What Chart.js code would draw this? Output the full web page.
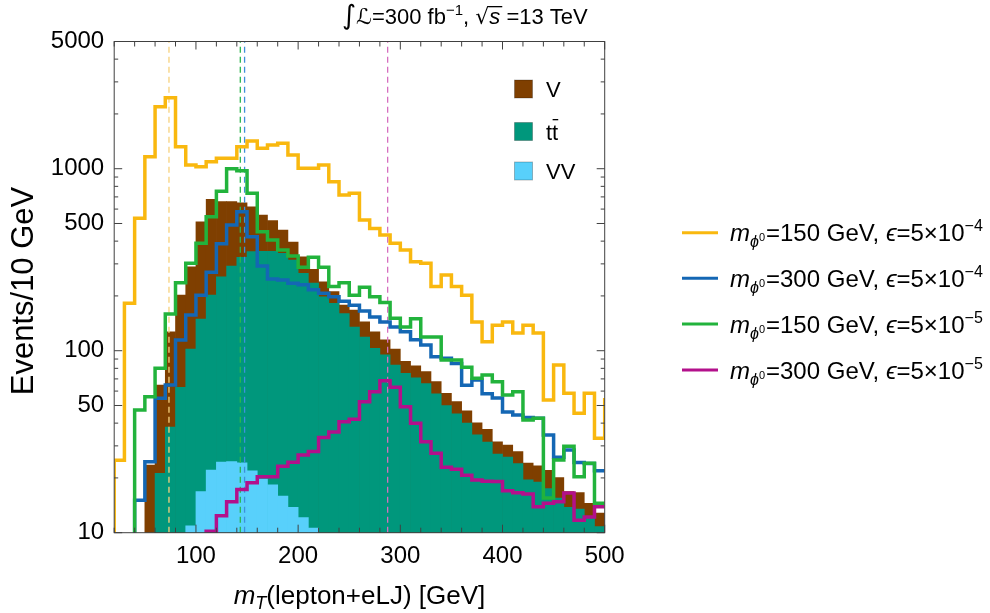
<!DOCTYPE html>
<html>
<head>
<meta charset="utf-8">
<script src="https://cdn.jsdelivr.net/npm/chart.js@4.4.1/dist/chart.umd.min.js"></script>
<style>
  html, body { margin: 0; padding: 0; background: #fff; }
  #wrap { width: 990px; height: 613px; }
</style>
</head>
<body>
<div id="wrap"><canvas id="c" width="990" height="613"></canvas></div>
<script>
// 10 GeV bins, left edges (last edge = 500 closes the range)
const binEdges = [20, 30, 40, 50, 60, 70, 80, 90, 100, 110, 120, 130, 140, 150, 160, 170, 180, 190, 200,
  210, 220, 230, 240, 250, 260, 270, 280, 290, 300, 310, 320, 330, 340, 350, 360, 370, 380, 390, 400,
  410, 420, 430, 440, 450, 460, 470, 480, 490, 500];

// stacked backgrounds, read as the top of each stacked layer (null = below 10)
const stackV = [null, null, null, 23.5, 64.8, 127, 202, 289, 511, 679, 659, 659, 650, 618, 557, 518, 460, 395,
  328, 280, 239, 211, 178, 167, 144, 127, 114.6, 102, 87.5, 82.5, 76.7, 67.6, 58.3, 52.5, 46.8, 40.2, 37,
  31.6, 30.3, 27.9, 24.1, 23.3, 22, 20.1, 16.8, 16.6, 14.5, 12.8];
const stackTT = [null, null, null, null, 21.2, 38, 63, 102, 149, 202, 255, 292, 326, 350, 352, 352, 343, 315,
  266, 235, 198, 182, 160, 135, 119, 103, 95, 83.5, 75, 71, 66, 58, 50, 45, 40, 34.5, 31.5,
  27, 26, 24, 19.5, 19, 17.5, 15.5, 13.8, 13.5, 12, 10.8];
const stackVV = [null, null, null, null, null, null, null, 10.9, 16.8, 22.1, 24.4, 24.6, 24.2, 21.9, 19.7, 18.3,
  15.9, 13.8, 12.1, 10.6, null, null, null, null, null, null, null, null, null, null, null, null, null, null,
  null, null, null, null, null, null, null, null, null, null, null, null, null, null];

// signal histograms, one value per bin edge (last entry = bin just past 500), 1 = empty
const sig150e4 = [25, 182, 534, 1164, 2191, 2455, 1321, 1048, 1026, 1092, 1141, 1141, 1321, 1419, 1294, 1349,
  1379, 1189, 1005, 1005, 1048, 848, 717, 732, 523, 470, 432, 389, 357, 308, 302, 225, 261, 225, 202, 144,
  112, 138, 144, 125, 138, 125, 53.6, 83.5, 58.3, 45.3, 58.3, 33, 55];
const sig300e4 = [1, 1, 15.1, 24.5, 54.8, 64.8, 114.6, 157, 202, 270, 387, 491, 580, 423, 292, 248, 245, 235,
  230, 216, 207, 198, 187, 178, 165, 153, 144, 135, 127, 115, 107.5, 92.7, 90.8, 85, 64.5, 69, 58, 55, 46,
  44.3, 43, 42.5, 34.4, 26, 28.5, 24.3, 24, 21.9, 21.9];
const sig150e5 = [1, 1, 47.2, 55.9, 80, 159, 236, 302, 389, 545, 752, 1000, 975, 732, 451, 406, 357, 331, 287,
  326, 287, 225, 236, 202, 223, 198, 184, 151, 135, 150, 119, 119, 89, 89, 81, 70.5, 73.5, 67.6, 57.1, 59.5,
  41.6, 42.5, 15.5, 25.1, 29.9, 20.3, 24.1, 14.5, 14.5];
const sig300e5 = [1, 1, 1, 1, 1, 1, 1, 1, 1, 10.2, 12.4, 14.8, 17.3, 18.8, 20.3, 20.3, 23.2, 24.4, 26.7, 27.9,
  33.3, 35.8, 40.7, 42, 52.5, 59.5, 68.4, 63, 49.2, 40, 31.6, 27.3, 22.9, 22.3, 20.7, 19.5, 19.2, 19.1, 17,
  16.6, 16.3, 13.9, 14.5, 14.8, 16.5, 11.7, 12.2, 13.9, 13.9];

// dashed reference lines (GeV)
const markerPos = [73.6, 147.6, 143.4, 287.6];

const xTickValues = [20, 40, 60, 80, 100, 120, 140, 160, 180, 200, 220, 240, 260, 280, 300, 320, 340, 360,
  380, 400, 420, 440, 460, 480, 500];
const xLabelled = [100, 200, 300, 400, 500];
const yTickValues = [10, 20, 30, 40, 50, 60, 70, 80, 90, 100, 200, 300, 400, 500, 600, 700, 800, 900,
  1000, 2000, 3000, 4000, 5000];
const yLabelled = [10, 50, 100, 500, 1000, 5000];

const bgNames = ['V', 'tt', 'VV'];
const bgColors = ['#7f3f00', '#00977c', '#58d0fb'];
const sigNames = ['150', '300', '150', '300'];
const sigEps = ['−4', '−4', '−5', '−5'];
const sigColors = ['#f9b80f', '#1467b4', '#22b33c', '#b3108b'];
const dashColors = ['#f7d27c', '#3f8fdb', '#2bb84b', '#d66fc0'];

const FONT = '"Liberation Sans", Arial, Helvetica, sans-serif';

function barData(vals) {
  return vals.map((v, i) => ({ x: binEdges[i] + 5, y: v }));
}
function stepData(vals) {
  const pts = [{ x: binEdges[0], y: 1 }];
  vals.forEach((v, i) => pts.push({ x: binEdges[i], y: v }));
  return pts;
}

function drawRich(ctx, x, y, parts, align) {
  let total = 0;
  for (const p of parts) {
    ctx.font = (p.it ? 'italic ' : '') + p.size + 'px ' + (p.fam || FONT);
    p.w = ctx.measureText(p.t).width;
    total += p.w + (p.gap || 0);
  }
  let cx = align === 'center' ? x - total / 2 : x;
  for (const p of parts) {
    ctx.font = (p.it ? 'italic ' : '') + p.size + 'px ' + (p.fam || FONT);
    ctx.fillText(p.t, cx, y + (p.dy || 0));
    if (p.bar) {
      ctx.fillRect(cx + p.bar[0], y + (p.dy || 0) - p.bar[1], p.w - p.bar[0] - p.bar[2], 1.3);
    }
    cx += p.w + (p.gap || 0);
  }
}

const decorations = {
  id: 'decorations',
  afterDatasetsDraw(chart) {
    const ctx = chart.ctx;
    const a = chart.chartArea;
    const xs = chart.scales.x, ys = chart.scales.y;
    ctx.save();
    ctx.strokeStyle = '#404040';
    ctx.lineWidth = 1;
    ctx.strokeRect(a.left, a.top, a.right - a.left, a.bottom - a.top);
    ctx.beginPath();
    xTickValues.forEach(v => {
      const px = xs.getPixelForValue(v);
      const len = xLabelled.includes(v) ? 8 : 5;
      ctx.moveTo(px, a.bottom); ctx.lineTo(px, a.bottom - len);
      ctx.moveTo(px, a.top); ctx.lineTo(px, a.top + len);
    });
    yTickValues.forEach(v => {
      const py = ys.getPixelForValue(v);
      const len = yLabelled.includes(v) ? 8 : 4;
      ctx.moveTo(a.left, py); ctx.lineTo(a.left + len, py);
      ctx.moveTo(a.right, py); ctx.lineTo(a.right - len, py);
    });
    ctx.stroke();
    ctx.restore();
  },
  afterDraw(chart) {
    const ctx = chart.ctx;
    const a = chart.chartArea;
    ctx.save();
    ctx.fillStyle = '#000';
    ctx.textBaseline = 'alphabetic';

    // title
    drawRich(ctx, 342, 24, [
      { t: '∫', size: 27, fam: '"DejaVu Sans", sans-serif' },
      { t: 'ℒ', size: 22, it: true, fam: '"DejaVu Sans", sans-serif' },
      { t: '=300 fb', size: 22 },
      { t: '−1', size: 15, dy: -9 },
      { t: ', ', size: 22 },
      { t: '√', size: 22, fam: '"DejaVu Sans", sans-serif' },
      { t: 's', size: 22, it: true, bar: [-1, 18, -2] },
      { t: ' =13 TeV', size: 22 }
    ]);

    // x axis title
    drawRich(ctx, (a.left + a.right) / 2, 604, [
      { t: 'm', size: 26, it: true },
      { t: 'T', size: 18, it: true, dy: 5 },
      { t: '(lepton+eLJ) [GeV]', size: 26 }
    ], 'center');

    // y axis title
    ctx.save();
    ctx.translate(33, 291);
    ctx.rotate(-Math.PI / 2);
    drawRich(ctx, 0, 0, [{ t: 'Events/10 GeV', size: 31 }], 'center');
    ctx.restore();

    // background legend
    const bgY = [89, 131.5, 171];
    bgNames.forEach((n, i) => {
      ctx.fillStyle = bgColors[i];
      ctx.fillRect(514.5, bgY[i] - 9, 18, 18);
      ctx.strokeStyle = 'rgba(0,0,0,0.25)';
      ctx.lineWidth = 1;
      ctx.strokeRect(514.5, bgY[i] - 9, 18, 18);
      ctx.fillStyle = '#000';
      if (n === 'tt') {
        drawRich(ctx, 546, bgY[i] + 8, [{ t: 't', size: 22 }, { t: 't', size: 22, bar: [0.5, 20.5, 0] }]);
      } else {
        drawRich(ctx, 546, bgY[i] + 8, [{ t: n, size: 22 }]);
      }
    });

    // signal legend
    const sY = [232.7, 278.3, 324, 370];
    sigNames.forEach((m, i) => {
      ctx.strokeStyle = sigColors[i];
      ctx.lineWidth = 3;
      ctx.beginPath();
      ctx.moveTo(682, sY[i]); ctx.lineTo(718, sY[i]);
      ctx.stroke();
      ctx.fillStyle = '#000';
      drawRich(ctx, 730, sY[i] + 8.5, [
        { t: 'm', size: 24, it: true },
        { t: 'ϕ', size: 16, it: true, dy: 6 },
        { t: '0', size: 11, dy: 0, gap: 1 },
        { t: '=' + m + ' GeV, ', size: 24 },
        { t: 'ϵ', size: 24, it: true },
        { t: '=5×10', size: 24 },
        { t: sigEps[i], size: 16, dy: -10 }
      ]);
    });
    ctx.restore();
  }
};

const sigSeries = [sig150e4, sig300e4, sig150e5, sig300e5];
const datasets = [];
sigSeries.forEach((s, i) => {
  datasets.push({
    type: 'line', data: stepData(s), stepped: 'before', borderColor: sigColors[i], borderWidth: 3.5,
    pointRadius: 0, fill: false, order: 4 - i, borderJoinStyle: 'miter', borderCapStyle: 'butt'
  });
});
markerPos.forEach((m, i) => {
  datasets.push({
    type: 'line', data: [{ x: m, y: 10 }, { x: m, y: 5000 }], borderColor: dashColors[i], borderWidth: 1.3,
    borderDash: [6, 4], pointRadius: 0, fill: false, order: 5
  });
});
[stackVV, stackTT, stackV].forEach((s, i) => {
  datasets.push({
    type: 'bar', data: barData(s), backgroundColor: bgColors[2 - i], borderWidth: 0,
    barPercentage: 1, categoryPercentage: 1, grouped: false, order: 6 + i
  });
});

new Chart(document.getElementById('c'), {
  data: { datasets },
  options: {
    responsive: false,
    animation: false,
    events: [],
    layout: { padding: { left: 0, right: 385.3, top: 41.5, bottom: 0 } },
    plugins: { legend: { display: false }, tooltip: { enabled: false }, title: { display: false } },
    scales: {
      x: {
        type: 'linear', min: 20, max: 500, offset: false,
        grid: { display: false, drawTicks: false }, border: { display: false },
        afterBuildTicks: s => { s.ticks = xTickValues.map(v => ({ value: v })); },
        afterFit: s => { s.height = 80.3; },
        ticks: {
          autoSkip: false, maxRotation: 0, padding: 9, color: '#000',
          font: { family: FONT, size: 24 },
          callback: v => xLabelled.includes(v) ? String(v) : ''
        }
      },
      y: {
        type: 'logarithmic', min: 10, max: 5000,
        grid: { display: false, drawTicks: false }, border: { display: false },
        afterBuildTicks: s => { s.ticks = yTickValues.map(v => ({ value: v })); },
        afterFit: s => { s.width = 114.2; },
        ticks: {
          autoSkip: false, padding: 10, color: '#000',
          font: { family: FONT, size: 24 },
          callback: v => yLabelled.includes(v) ? String(v) : ''
        }
      }
    }
  },
  plugins: [decorations]
});
</script>
</body>
</html>
